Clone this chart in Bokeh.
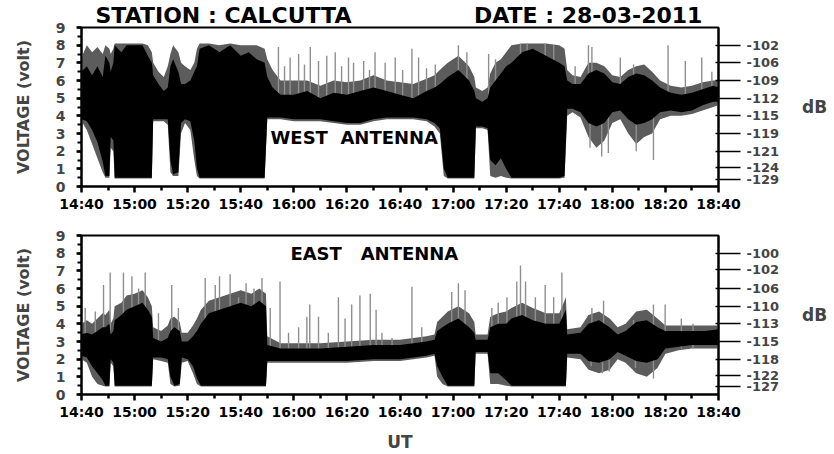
from bokeh.plotting import figure
from bokeh.layouts import column
from bokeh.models import (FixedTicker, SingleIntervalTicker, LinearAxis, Label, Range1d)
from bokeh.embed import file_html
from bokeh.resources import INLINE

# ---------------- data (minutes after 14:40 UT, voltage in volt) ----------------
time_ticks = [0, 20, 40, 60, 80, 100, 120, 140, 160, 180, 200, 220, 240]
time_labels = ["14:40", "15:00", "15:20", "15:40", "16:00", "16:20", "16:40",
               "17:00", "17:20", "17:40", "18:00", "18:20", "18:40"]

# WEST antenna: dense core envelope and darker-grey outer envelope
west_t = [0, 2, 4, 6, 8, 9, 10.5, 11, 12, 12.5, 15, 17, 20, 23, 25, 26.5, 27, 29, 31, 32.5,
          33.5, 34.5, 36.5, 37.5, 39, 41, 42.5, 43.5, 44.5, 48, 52, 56, 60, 63, 66, 69,
          70, 72, 75, 80, 85, 90, 95, 100, 105, 110, 115, 120, 125, 130, 133, 135, 136.5,
          138, 142, 146, 148, 148.6, 151, 153, 154, 156, 158, 160, 162, 166, 170, 175, 180,
          182, 183, 185, 188, 191, 194, 197, 200, 203, 206, 209, 212, 215, 218, 222, 226,
          230, 234, 238, 240]
west_core_lo = [3.8, 3.7, 3.2, 2.5, 1.4, 0.6, 0.6, 2.8, 2.6, 0.5, 0.5, 0.5, 0.5, 0.5, 0.5, 0.5,
                3.8, 3.8, 3.8, 3.8, 1.5, 0.7, 0.8, 3.6, 3.8, 3.7, 2.6, 1.0, 0.5, 0.5, 0.5, 0.5,
                0.5, 0.5, 0.5, 0.5, 3.9, 3.9, 3.9, 3.8, 3.8, 3.8, 3.7, 3.6, 3.6, 3.8, 3.9, 3.9,
                3.9, 3.8, 3.6, 3.3, 1.0, 0.5, 0.5, 0.5, 0.5, 3.4, 3.4, 3.3, 1.5, 1.2, 1.6, 1.0,
                0.5, 0.5, 0.5, 0.5, 0.5, 0.6, 4.4, 4.4, 4.2, 3.6, 3.4, 3.6, 4.2, 4.3, 3.8, 3.5,
                3.6, 3.8, 4.2, 4.3, 4.2, 4.3, 4.6, 4.8, 4.8]
west_core_hi = [6.5, 6.8, 6.3, 6.8, 6.2, 7.4, 7.0, 6.5, 7.0, 8.0, 7.6, 8.0, 8.0, 8.0, 7.4, 7.0,
                6.3, 5.8, 5.4, 5.6, 6.8, 7.2, 6.5, 5.8, 5.8, 6.0, 6.5, 6.8, 7.8, 8.0, 7.6, 8.0,
                7.4, 7.6, 7.2, 7.0, 6.2, 5.6, 5.2, 5.2, 5.4, 5.0, 5.3, 5.2, 5.4, 5.6, 5.4, 5.2,
                5.0, 5.4, 5.6, 5.8, 6.0, 6.2, 6.6, 6.0, 5.4, 5.0, 4.8, 5.0, 5.6, 6.0, 6.4, 6.8,
                7.0, 7.6, 7.8, 7.4, 7.0, 6.8, 6.0, 5.8, 5.8, 6.4, 6.6, 6.4, 5.9, 5.8, 6.2, 6.4,
                6.3, 6.0, 5.6, 5.3, 5.2, 5.3, 5.5, 5.7, 5.6]
west_halo_lo = [3.7, 3.2, 2.4, 1.6, 0.8, 0.5, 0.5, 2.2, 2.0, 0.45, 0.45, 0.45, 0.45, 0.45, 0.45,
                0.45, 3.7, 3.7, 3.7, 3.5, 0.8, 0.6, 0.6, 3.0, 3.6, 3.2, 1.5, 0.6, 0.45, 0.45,
                0.45, 0.45, 0.45, 0.45, 0.45, 0.45, 3.8, 3.8, 3.8, 3.7, 3.7, 3.7, 3.6, 3.5, 3.5,
                3.7, 3.8, 3.8, 3.8, 3.7, 3.4, 3.0, 0.6, 0.45, 0.45, 0.45, 0.45, 3.3, 3.3, 3.2,
                0.6, 0.5, 0.6, 0.5, 0.45, 0.45, 0.45, 0.45, 0.45, 0.5, 4.0, 4.2, 3.9, 2.8, 2.2,
                2.6, 3.6, 3.8, 3.0, 2.4, 2.8, 3.0, 3.8, 4.0, 4.0, 4.1, 4.3, 4.5, 4.6]
west_halo_hi = [7.3, 8.0, 7.6, 7.9, 7.5, 8.0, 7.8, 7.5, 7.8, 8.1, 8.1, 8.1, 8.1, 8.1, 8.0, 7.6,
                7.0, 6.5, 6.2, 6.8, 7.5, 8.0, 7.6, 7.0, 6.8, 6.6, 7.0, 7.8, 8.1, 8.1, 8.0, 8.1,
                8.0, 8.0, 8.0, 7.8, 7.2, 6.6, 6.0, 6.0, 6.0, 5.7, 6.0, 5.9, 6.0, 6.3, 6.0, 5.9,
                5.8, 6.1, 6.3, 6.6, 6.8, 7.0, 7.4, 6.8, 6.2, 5.6, 5.4, 5.6, 6.4, 7.0, 7.2, 7.6,
                8.0, 8.1, 8.1, 8.1, 8.0, 7.8, 6.6, 6.3, 6.2, 7.0, 7.0, 6.8, 6.3, 6.2, 6.6, 6.8,
                6.9, 6.5, 6.0, 5.7, 5.6, 5.7, 5.9, 6.0, 6.0]
west_spike_t = [74.2, 76.5, 78.6, 81.8, 84, 86.2, 89.3, 92.4, 95.6, 98, 100.6, 102.5, 106.3,
                108.5, 110.6, 114.4, 118.2, 121, 124.5, 127, 130, 133.3, 142, 145.2, 153.4,
                156, 165.4, 167.9, 174.7, 177.9, 186, 191, 192.3, 203, 208, 221, 227.5,
                233.7, 237.5]
west_spike_top = [7.9, 6.8, 7.3, 7.5, 6.9, 7.9, 7.1, 7.4, 7.6, 6.8, 7.3, 7.0, 7.1, 6.6, 7.6,
                  7.0, 7.3, 6.6, 7.8, 7.3, 6.7, 6.9, 8.0, 7.6, 7.5, 7.2, 8.1, 8.1, 8.1, 8.0,
                  6.8, 8.0, 7.9, 7.3, 6.9, 8.0, 7.1, 7.3, 6.5]
west_dip_t = [191.6, 196, 198.5, 209, 215.5]
west_dip_bottom = [2.2, 1.7, 1.9, 2.0, 1.5]
west_db_ticks = [8, 7, 6, 5, 4, 3, 2, 1.1, 0.4]
west_db_labels = ["-102", "-106", "-109", "-112", "-115", "-119", "-121", "-124", "-129"]

# EAST antenna
east_t = [0, 2, 4, 6, 8, 9, 10.5, 11, 12, 12.5, 15, 17, 20, 23, 25, 26.5, 27, 30, 32.5, 33.5,
          35, 37, 37.8, 40, 42, 43.5, 45, 48, 52, 56, 60, 64, 67, 69.5, 70, 75, 80, 90, 100,
          110, 120, 125, 130, 133, 134, 136, 138, 142, 146, 148, 148.5, 153, 154, 157, 160,
          162, 166, 170, 175, 180, 182.5, 183, 188, 191, 195, 199, 202, 205, 209, 213, 217,
          220, 225, 230, 235, 240]
east_core_lo = [2.2, 2.1, 1.6, 1.2, 0.8, 0.5, 0.5, 2.0, 1.8, 0.5, 0.5, 0.5, 0.5, 0.5, 0.5, 0.5,
                2.1, 2.1, 2.0, 1.0, 0.5, 0.6, 2.1, 2.0, 1.6, 0.9, 0.5, 0.5, 0.5, 0.5, 0.5, 0.5,
                0.5, 0.5, 1.9, 1.9, 1.9, 1.9, 1.9, 2.0, 2.0, 2.1, 2.2, 2.3, 1.6, 1.0, 0.5, 0.5,
                0.5, 0.5, 2.4, 2.4, 1.2, 1.2, 0.8, 0.5, 0.5, 0.5, 0.5, 0.5, 0.5, 2.3, 2.3, 1.9,
                1.8, 2.0, 2.4, 2.2, 1.9, 1.8, 2.0, 2.6, 2.7, 2.8, 2.8, 2.8]
east_core_hi = [3.4, 3.5, 3.4, 3.6, 3.8, 3.8, 4.0, 3.4, 3.6, 4.2, 4.5, 4.8, 5.0, 5.2, 4.8, 4.4,
                3.2, 3.0, 3.2, 3.6, 3.8, 3.6, 3.0, 3.0, 3.3, 3.6, 4.0, 4.6, 4.8, 5.0, 5.2, 5.0,
                5.3, 5.0, 2.8, 2.6, 2.6, 2.6, 2.7, 2.8, 2.8, 2.9, 3.0, 3.1, 3.6, 3.8, 4.0, 4.3,
                3.8, 3.5, 3.1, 3.1, 3.8, 4.0, 4.0, 4.3, 4.5, 4.2, 4.0, 4.0, 4.8, 3.4, 3.5, 4.0,
                4.2, 3.8, 3.4, 3.6, 4.1, 4.2, 3.8, 3.6, 3.6, 3.6, 3.6, 3.7]
east_halo_lo = [2.0, 1.8, 1.0, 0.6, 0.5, 0.45, 0.45, 1.8, 1.6, 0.45, 0.45, 0.45, 0.45, 0.45,
                0.45, 0.45, 2.0, 1.9, 1.8, 0.6, 0.45, 0.5, 1.8, 1.9, 1.2, 0.6, 0.45, 0.45, 0.45,
                0.45, 0.45, 0.45, 0.45, 0.45, 1.8, 1.8, 1.8, 1.8, 1.8, 1.9, 1.9, 2.0, 2.1, 2.2,
                1.0, 0.6, 0.45, 0.45, 0.45, 0.45, 2.3, 2.3, 0.6, 0.6, 0.5, 0.45, 0.45, 0.45,
                0.45, 0.45, 0.45, 2.1, 2.0, 1.4, 1.2, 1.4, 2.0, 1.8, 1.2, 1.0, 1.5, 2.3, 2.5,
                2.6, 2.6, 2.6]
east_halo_hi = [4.0, 4.2, 4.0, 4.3, 4.6, 4.5, 4.8, 4.0, 4.3, 5.0, 5.2, 5.6, 5.7, 5.9, 5.5, 5.0,
                3.8, 3.6, 3.9, 4.3, 4.4, 4.1, 3.5, 3.5, 3.9, 4.3, 4.8, 5.3, 5.5, 5.7, 5.9, 5.7,
                6.0, 5.7, 3.3, 2.9, 2.9, 2.9, 3.0, 3.1, 3.1, 3.2, 3.3, 3.4, 4.1, 4.4, 4.7, 5.0,
                4.6, 4.1, 3.4, 3.4, 4.4, 4.6, 4.7, 4.9, 5.2, 4.9, 4.6, 4.6, 5.5, 3.7, 3.8, 4.5,
                4.7, 4.3, 3.8, 4.0, 4.7, 4.8, 4.3, 3.9, 3.9, 3.9, 3.9, 3.9]
east_spike_t = [1.4, 5.2, 8.3, 10.8, 15.8, 19, 21.5, 24, 29, 34, 36.5, 46.6, 50.4, 52, 56, 59.2,
                62, 65, 68, 71.1, 74.8, 78, 81.8, 84.9, 86, 89.3, 93, 96.8, 99.3, 101.8, 104.9,
                108.8, 111, 113.2, 117, 124.5, 128.2, 139.5, 142, 144.5, 154.6, 157, 160.3,
                164, 165.4, 167.3, 171, 174.7, 177.9, 181, 192.3, 196.7, 208, 215.5, 219.9,
                226, 230.4]
east_spike_top = [4.9, 4.7, 6.2, 6.9, 6.9, 6.7, 6.0, 6.9, 4.6, 6.2, 4.9, 6.6, 6.2, 6.7, 6.8,
                  5.5, 6.3, 6.0, 6.6, 4.9, 6.4, 3.5, 3.8, 4.4, 5.1, 4.4, 3.5, 5.5, 4.3, 5.1,
                  5.6, 5.7, 4.8, 3.5, 3.2, 6.1, 3.8, 5.8, 6.3, 5.9, 4.9, 5.2, 5.5, 6.4, 7.3,
                  6.4, 5.5, 6.2, 5.5, 6.9, 4.9, 5.3, 4.2, 5.1, 5.1, 4.3, 4.0]
east_dip_t = [192, 196.3, 198.8, 208.7, 215.5]
east_dip_bottom = [1.6, 1.2, 1.3, 1.5, 0.9]
east_db_ticks = [8, 7.1, 6, 5, 4, 3, 2, 1.1, 0.45]
east_db_labels = ["-100", "-102", "-106", "-110", "-113", "-115", "-118", "-122", "-127"]

FONT = "DejaVu Sans"
NB = "\u00a0"


def make_panel(height, b_top, b_bottom, t, clo, chi, hlo, hhi, sp_t, sp_top, dip_t, dip_bot,
               base, db_ticks, db_labels, xlabel):
    p = figure(width=834, height=height, x_range=Range1d(0, 240), y_range=Range1d(0, 9),
               output_backend="svg", toolbar_location=None,
               min_border_left=81, min_border_right=116,
               min_border_top=b_top, min_border_bottom=b_bottom)
    p.grid.visible = False
    p.outline_line_color = "black"
    p.outline_line_width = 2
    p.background_fill_color = "white"
    p.border_fill_color = "white"

    # outer envelope, light spikes, dense core
    p.varea(x=t, y1=hlo, y2=hhi, fill_color="#5c5c5c")
    p.segment(x0=sp_t, y0=[base] * len(sp_t), x1=sp_t, y1=sp_top,
              line_color="#8f8f8f", line_width=1.4)
    p.segment(x0=dip_t, y0=[base] * len(dip_t), x1=dip_t, y1=dip_bot,
              line_color="#8f8f8f", line_width=1.4)
    p.varea(x=t, y1=clo, y2=chi, fill_color="black")

    # x axis
    xa = p.xaxis[0]
    minor = [(a + b) / 2 for a, b in zip(time_ticks[:-1], time_ticks[1:])]
    xa.ticker = FixedTicker(ticks=time_ticks, minor_ticks=minor)
    xa.major_label_overrides = dict(zip(time_ticks, time_labels))
    xa.axis_line_width = 2
    xa.major_tick_line_width = 2.5
    xa.minor_tick_line_width = 2.5
    xa.major_tick_in = 0
    xa.major_tick_out = 6
    xa.minor_tick_in = 0
    xa.minor_tick_out = 4
    xa.major_label_standoff = 3
    xa.major_label_text_font = FONT
    xa.major_label_text_font_style = "bold"
    xa.major_label_text_font_size = "14px"
    xa.major_label_text_color = "black"
    if xlabel:
        xa.axis_label = xlabel
        xa.axis_label_text_font = FONT
        xa.axis_label_text_font_style = "bold"
        xa.axis_label_text_font_size = "17px"
        xa.axis_label_standoff = 9

    # left axis
    ya = p.yaxis[0]
    ya.ticker = SingleIntervalTicker(interval=1, num_minor_ticks=2)
    ya.axis_line_width = 2
    ya.major_tick_line_width = 2.5
    ya.minor_tick_line_width = 2
    ya.major_tick_in = 0
    ya.major_tick_out = 5
    ya.minor_tick_in = 0
    ya.minor_tick_out = 4
    ya.major_label_standoff = 11
    ya.major_label_text_font = FONT
    ya.major_label_text_font_style = "bold"
    ya.major_label_text_font_size = "14px"
    ya.axis_label = "VOLTAGE (volt)"
    ya.axis_label_text_font = FONT
    ya.axis_label_text_font_style = "bold"
    ya.axis_label_text_font_size = "16px"
    ya.axis_label_standoff = 20

    # right dB axis
    ra = LinearAxis(ticker=FixedTicker(ticks=db_ticks, minor_ticks=[]),
                    major_label_overrides=dict(zip(db_ticks, db_labels)))
    ra.axis_line_width = 2
    ra.major_tick_line_width = 1.6
    ra.major_tick_in = 3
    ra.major_tick_out = 22
    ra.major_label_standoff = 6
    ra.major_label_text_font = FONT
    ra.major_label_text_font_style = "bold"
    ra.major_label_text_font_size = "13px"
    ra.axis_label = "dB"
    ra.axis_label_orientation = "horizontal"
    ra.axis_label_text_font = FONT
    ra.axis_label_text_font_style = "bold"
    ra.axis_label_text_font_size = "17px"
    ra.axis_label_standoff = 20
    p.add_layout(ra, "right")
    return p


p1 = make_panel(214, 27, 26, west_t, west_core_lo, west_core_hi, west_halo_lo, west_halo_hi,
                west_spike_t, west_spike_top, west_dip_t, west_dip_bottom, 5.0,
                west_db_ticks, west_db_labels, None)
p2 = make_panel(240, 21, 57, east_t, east_core_lo, east_core_hi, east_halo_lo, east_halo_hi,
                east_spike_t, east_spike_top, east_dip_t, east_dip_bottom, 2.6,
                east_db_ticks, east_db_labels, "UT")

p1.title.text = "STATION : CALCUTTA" + NB * 16 + "DATE : 28-03-2011"
p1.title.align = "left"
p1.title.offset = 14
p1.title.standoff = 0
p1.title.text_font = FONT
p1.title.text_font_style = "bold"
p1.title.text_font_size = "22px"
p1.title.text_color = "black"

p1.add_layout(Label(x=71.2, y=2.8, text="WEST" + NB * 2 + "ANTENNA", text_font=FONT,
                    text_font_style="bold", text_font_size="18px",
                    text_baseline="middle", text_color="black"))
p2.add_layout(Label(x=78.7, y=8.0, text="EAST" + NB * 3 + "ANTENNA", text_font=FONT,
                    text_font_style="bold", text_font_size="18px",
                    text_baseline="middle", text_color="black"))

layout = column(p1, p2, spacing=0)
open("out.html", "w").write(file_html(layout, INLINE))
